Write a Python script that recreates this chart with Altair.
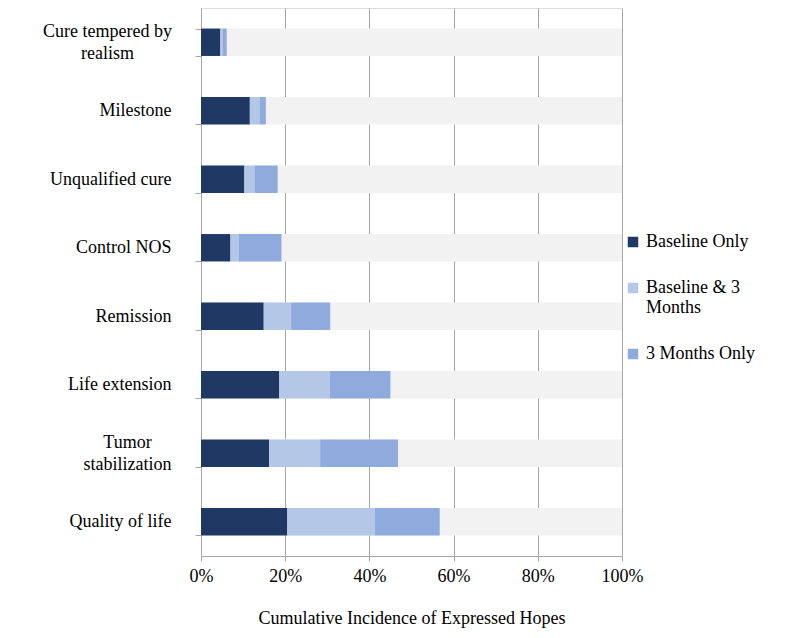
import altair as alt
import pandas as pd

categories = ["Cure tempered by realism", "Milestone", "Unqualified cure", "Control NOS",
              "Remission", "Life extension", "Tumor stabilization", "Quality of life"]
series = ["Baseline Only", "Baseline & 3 Months", "3 Months Only"]
baseline_only = [0.046, 0.116, 0.103, 0.070, 0.149, 0.186, 0.162, 0.205]
baseline_and_3 = [0.005, 0.023, 0.024, 0.020, 0.065, 0.120, 0.121, 0.208]
three_only = [0.010, 0.015, 0.055, 0.101, 0.093, 0.144, 0.185, 0.154]
colors = ["#1F3864", "#B4C7E7", "#8FAADC"]
x_ticks = [0, 0.2, 0.4, 0.6, 0.8, 1.0]

rows = []
for i, c in enumerate(categories):
    for k, (s, vals) in enumerate(zip(series, [baseline_only, baseline_and_3, three_only])):
        rows.append({"category": c, "series": s, "order": k, "value": vals[i]})
df = pd.DataFrame(rows)
bg = pd.DataFrame({"category": categories, "full": [1.0] * len(categories)})

FONT = "Liberation Serif"
two_line = "datum.value == 'Cure tempered by realism' || datum.value == 'Tumor stabilization'"

y_enc = alt.Y("category:N", sort=categories, title=None,
              scale=alt.Scale(paddingInner=0.6, paddingOuter=0.3),
              axis=alt.Axis(tickBand="extent", tickSize=6, tickColor="#a6a6a6",
                            domainColor="#a6a6a6", grid=False,
                            labelPadding={"condition": [
                                {"test": "datum.value == 'Cure tempered by realism'", "value": 88},
                                {"test": "datum.value == 'Tumor stabilization'", "value": 68}],
                                "value": 24},
                            labelAlign={"condition": {"test": two_line, "value": "center"},
                                        "value": "right"},
                            labelOffset={"condition": {"test": two_line, "value": -11},
                                         "value": 0},
                            labelLineHeight=22, labelFontSize=18, labelFont=FONT,
                            labelColor="#000000", labelLimit=250,
                            labelExpr="datum.value == 'Cure tempered by realism' ? ['Cure tempered by', 'realism'] : datum.value == 'Tumor stabilization' ? ['Tumor', 'stabilization'] : datum.value"))

x_scale = alt.Scale(domain=[0, 1], nice=False)
x_axis = alt.Axis(values=x_ticks, format="%", grid=True, gridColor="#a6a6a6",
                  tickColor="#a6a6a6", domainColor="#a6a6a6", tickSize=5,
                  labelFlush=False, labelOverlap=False,
                  labelFontSize=18, labelFont=FONT, labelColor="#000000", labelPadding=6,
                  title="Cumulative Incidence of Expressed Hopes", titleFont=FONT,
                  titleFontSize=18, titleFontWeight="normal", titleColor="#000000",
                  titlePadding=24)

back = alt.Chart(bg).mark_bar(color="#F2F2F2").encode(
    x=alt.X("full:Q", scale=x_scale, axis=x_axis),
    y=y_enc,
)

bars = alt.Chart(df).mark_bar().encode(
    x=alt.X("value:Q", stack="zero", scale=x_scale, axis=x_axis),
    y=y_enc,
    color=alt.Color("series:N", scale=alt.Scale(domain=series, range=colors),
                    legend=alt.Legend(title=None, orient="none", legendX=423, legendY=225,
                                      symbolType="square", symbolSize=110, symbolStrokeWidth=0,
                                      labelFont=FONT, labelFontSize=18, labelColor="#000000",
                                      labelLimit=300, labelOffset=4, rowPadding=28,
                                      labelExpr="datum.label == 'Baseline & 3 Months' ? ['Baseline & 3', 'Months'] : datum.label")),
    order=alt.Order("order:Q"),
)

chart = alt.layer(back, bars).properties(
    width=421, height=548,
    autosize=alt.AutoSizeParams(type="none"),
    padding={"left": 193, "top": 0, "right": 160, "bottom": 74},
).configure_view(stroke=None).configure(font=FONT)

chart.save("out.html", embed_options={"renderer": "svg", "actions": False})
